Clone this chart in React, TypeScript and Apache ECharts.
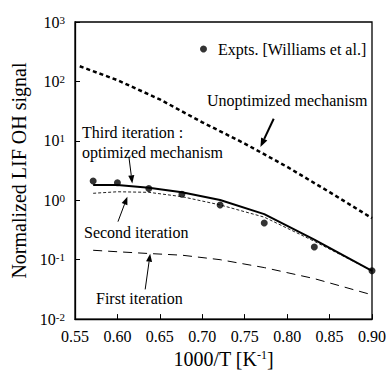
import React, { useEffect, useRef } from "react";
import * as echarts from "echarts";

// Inverse temperature (1000/T) at which experiments and optimized runs were evaluated
const EXPT_X = [0.5714, 0.6, 0.637, 0.676, 0.721, 0.773, 0.832, 0.9];
const EXPT_Y = [2.11, 1.97, 1.58, 1.26, 0.835, 0.414, 0.163, 0.065];

const THIRD_Y = [1.8, 1.8, 1.63, 1.36, 1.01, 0.584, 0.218, 0.065];
const SECOND_Y = [1.31, 1.39, 1.36, 1.15, 0.835, 0.52, 0.204, 0.065];
const FIRST_Y = [0.144, 0.136, 0.127, 0.119, 0.1, 0.0736, 0.048, 0.0256];

// Unoptimized mechanism, sampled on its own grid
const UNOPT_X = [0.5556, 0.6, 0.65, 0.7, 0.75, 0.8, 0.85, 0.9];
const UNOPT_Y = [180, 105, 49.8, 20.5, 9.0, 3.65, 1.37, 0.5];

const X_TICKS = { min: 0.55, max: 0.9, step: 0.05 };
const Y_RANGE = { min: 0.01, max: 1000 };

const FONT = "'Liberation Serif', 'Times New Roman', serif";

const pairs = (xs: number[], ys: number[]) => xs.map((x, i) => [x, ys[i]]);

// annotation arrows: tip in data space, tail as pixel offset from the tip
const ARROWS = [
  { tip: [0.7685, 7.85], dx: 13.3, dy: -28.3, width: 2, head: 9 },
  { tip: [0.6175, 1.92], dx: -3.4, dy: -26.7, width: 1, head: 8 },
  { tip: [0.6117, 1.15], dx: -9.4, dy: 25, width: 1, head: 8 },
  { tip: [0.6386, 0.126], dx: -5, dy: 35.7, width: 1, head: 8 },
];

const LABELS = [
  { text: "Unoptimized mechanism", x: 207, y: 100 },
  { text: "Third iteration :", x: 82, y: 132 },
  { text: "optimized mechanism", x: 82, y: 152 },
  { text: "Second iteration", x: 84, y: 232 },
  { text: "First iteration", x: 96, y: 298 },
];

export default function App() {
  const ref = useRef<HTMLDivElement>(null);

  useEffect(() => {
    if (!ref.current) return;
    const chart = echarts.init(ref.current, undefined, { renderer: "svg" });

    const lineSeries = (name: string, data: number[][], lineStyle: any, z = 2) => ({
      name,
      type: "line",
      data,
      showSymbol: false,
      symbol: "none",
      lineStyle: { color: "#000", ...lineStyle },
      z,
    });

    chart.setOption({
      animation: false,
      backgroundColor: "#fff",
      textStyle: { fontFamily: FONT },
      grid: {
        left: 75,
        right: 15,
        top: 22,
        bottom: 52,
        show: true,
        borderColor: "#000",
        borderWidth: 1.3,
        backgroundColor: "transparent",
      },
      legend: {
        data: [{ name: "Expts. [Williams et al.]", icon: "circle" }],
        left: 195,
        top: 36,
        itemWidth: 7,
        itemHeight: 7,
        textStyle: { fontFamily: FONT, fontSize: 16, color: "#000", padding: [0, 0, 0, 6] },
      },
      xAxis: {
        type: "value",
        min: X_TICKS.min,
        max: X_TICKS.max,
        interval: X_TICKS.step,
        axisLine: { lineStyle: { color: "#000", width: 1.3 } },
        axisTick: { inside: true, length: 5, lineStyle: { color: "#000" } },
        splitLine: { show: false },
        axisLabel: {
          formatter: (v: number) => v.toFixed(2),
          fontFamily: FONT,
          fontSize: 16,
          color: "#000",
          margin: 9,
        },
        name: "{a|1000/T [K}{s|-1}{a|]}",
        nameLocation: "middle",
        nameGap: 25,
        nameTextStyle: {
          rich: {
            a: { fontFamily: FONT, fontSize: 20, color: "#000" },
            s: { fontFamily: FONT, fontSize: 12, color: "#000", verticalAlign: "top" },
          },
        },
      },
      yAxis: {
        type: "log",
        logBase: 10,
        min: Y_RANGE.min,
        max: Y_RANGE.max,
        axisLine: { show: true, lineStyle: { color: "#000", width: 1.3 } },
        axisTick: { inside: true, length: 5, lineStyle: { color: "#000" } },
        minorTick: { show: false },
        splitLine: { show: false },
        axisLabel: {
          formatter: (v: number) => `{b|10}{s|${Math.round(Math.log10(v))}}`,
          margin: 10,
          rich: {
            b: { fontFamily: FONT, fontSize: 16, color: "#000" },
            s: { fontFamily: FONT, fontSize: 11, color: "#000", verticalAlign: "top" },
          },
        },
        name: "Normalized LIF OH signal",
        nameLocation: "middle",
        nameGap: 45,
        nameTextStyle: { fontFamily: FONT, fontSize: 20, color: "#000" },
      },
      series: [
        lineSeries("Unoptimized mechanism", pairs(UNOPT_X, UNOPT_Y), { width: 2.5, type: [4, 3] }),
        lineSeries("First iteration", pairs(EXPT_X, FIRST_Y), { width: 1, type: [9, 6] }),
        lineSeries("Second iteration", pairs(EXPT_X, SECOND_Y), { width: 1, type: [3, 2], color: "#222" }),
        lineSeries("Third iteration", pairs(EXPT_X, THIRD_Y), { width: 2 }, 3),
        {
          name: "Expts. [Williams et al.]",
          type: "scatter",
          data: pairs(EXPT_X, EXPT_Y),
          symbol: "circle",
          symbolSize: 7,
          itemStyle: { color: "#000" },
          z: 4,
        },
      ],
    });

    const graphics: any[] = [];
    for (const a of ARROWS) {
      const p = chart.convertToPixel({ gridIndex: 0 }, a.tip) as number[];
      const [tx, ty] = p;
      const sx = tx + a.dx;
      const sy = ty + a.dy;
      const len = Math.hypot(a.dx, a.dy);
      const ux = -a.dx / len;
      const uy = -a.dy / len;
      const bx = tx - ux * a.head;
      const by = ty - uy * a.head;
      const hw = a.head * 0.38;
      graphics.push({
        type: "line",
        shape: { x1: sx, y1: sy, x2: bx, y2: by },
        style: { stroke: "#000", lineWidth: a.width },
        z: 10,
      });
      graphics.push({
        type: "polygon",
        shape: {
          points: [
            [tx, ty],
            [bx - uy * hw, by + ux * hw],
            [bx + uy * hw, by - ux * hw],
          ],
        },
        style: { fill: "#000" },
        z: 10,
      });
    }
    for (const l of LABELS) {
      graphics.push({
        type: "text",
        x: l.x,
        y: l.y,
        style: {
          text: l.text,
          fontFamily: FONT,
          fontSize: 16,
          fill: "#000",
          verticalAlign: "middle",
        },
        z: 10,
      });
    }
    chart.setOption({ graphic: graphics });

    return () => chart.dispose();
  }, []);

  return (
    <div
      ref={ref}
      style={{ position: "fixed", left: 0, top: 0, width: 389, height: 374 }}
    />
  );
}
